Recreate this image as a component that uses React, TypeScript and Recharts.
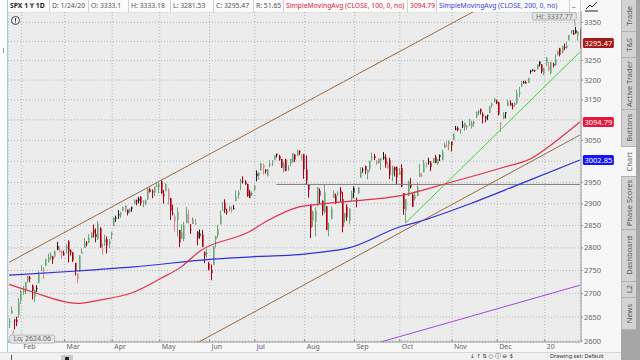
import React from 'react';
import { ComposedChart, Bar, Line, XAxis, YAxis, CartesianGrid, ReferenceLine, ReferenceDot } from 'recharts';

type Ohlc = [number, number, number, number];

// SPX daily bars, open / high / low / close
const jan19: Ohlc[] = [
  [2638.84, 2647.2, 2627.01, 2642.33], [2657.44, 2672.38, 2657.33, 2664.76], [2644.97, 2644.97, 2624.06, 2643.85],
  [2644.89, 2650.93, 2631.05, 2640.0], [2653.62, 2690.44, 2648.34, 2681.05], [2685.49, 2708.95, 2678.65, 2704.1],
];
const feb19: Ohlc[] = [
  [2702.32, 2716.66, 2696.88, 2706.53], [2706.49, 2724.99, 2698.75, 2724.87], [2728.34, 2738.98, 2724.03, 2737.7],
  [2735.05, 2738.08, 2724.15, 2731.61], [2717.53, 2719.32, 2687.26, 2706.05], [2692.36, 2708.07, 2681.83, 2707.88],
  [2712.4, 2718.05, 2703.79, 2709.8], [2722.61, 2748.19, 2722.61, 2744.73], [2750.3, 2761.85, 2748.63, 2753.03],
  [2743.5, 2757.9, 2731.23, 2745.73], [2760.24, 2775.66, 2760.24, 2775.6], [2769.28, 2787.33, 2767.29, 2779.76],
  [2779.05, 2789.88, 2774.06, 2784.7], [2780.67, 2781.57, 2764.55, 2774.88], [2780.67, 2794.2, 2779.11, 2792.67],
  [2804.35, 2813.49, 2794.99, 2796.11], [2792.36, 2803.12, 2789.47, 2793.9], [2787.5, 2795.76, 2775.13, 2792.38],
  [2788.11, 2793.73, 2782.51, 2784.49],
];
const mar19: Ohlc[] = [
  [2798.22, 2808.02, 2787.38, 2803.69], [2814.37, 2816.88, 2767.66, 2792.81], [2794.41, 2796.44, 2782.97, 2789.65],
  [2790.27, 2790.27, 2768.69, 2771.45], [2766.53, 2767.25, 2739.09, 2748.93], [2730.79, 2744.13, 2722.27, 2743.07],
  [2747.61, 2784.0, 2747.61, 2783.3], [2787.34, 2798.32, 2786.73, 2791.52], [2799.78, 2821.24, 2799.78, 2810.92],
  [2810.38, 2815.0, 2803.46, 2808.48], [2810.79, 2830.73, 2810.79, 2822.48], [2822.61, 2835.41, 2821.99, 2832.94],
  [2840.76, 2852.42, 2823.27, 2832.57], [2831.34, 2843.54, 2812.43, 2824.23], [2819.72, 2860.31, 2817.38, 2854.88],
  [2844.52, 2846.16, 2800.47, 2800.71], [2796.01, 2809.79, 2785.02, 2798.36], [2812.66, 2829.87, 2803.99, 2818.46],
  [2819.72, 2825.56, 2787.72, 2805.37], [2809.4, 2819.71, 2798.77, 2815.44], [2828.27, 2836.03, 2819.23, 2834.4],
];
const apr19: Ohlc[] = [
  [2848.63, 2869.4, 2848.63, 2867.19], [2868.24, 2872.9, 2858.75, 2867.24], [2876.09, 2885.25, 2865.17, 2873.4],
  [2873.99, 2881.28, 2867.14, 2879.39], [2884.16, 2893.24, 2882.99, 2892.74], [2888.46, 2895.95, 2880.78, 2895.77],
  [2886.58, 2886.88, 2873.33, 2878.2], [2881.37, 2889.71, 2879.13, 2888.21], [2891.92, 2893.42, 2881.99, 2888.32],
  [2900.86, 2910.54, 2898.37, 2907.41], [2908.32, 2909.6, 2896.48, 2905.58], [2912.26, 2916.06, 2900.71, 2907.06],
  [2916.04, 2918.0, 2895.45, 2900.45], [2904.81, 2908.4, 2891.9, 2905.03], [2898.78, 2909.51, 2896.35, 2907.97],
  [2909.99, 2936.31, 2908.53, 2933.68], [2934.0, 2936.83, 2926.05, 2927.25], [2928.99, 2933.1, 2912.84, 2926.17],
  [2925.81, 2939.88, 2917.56, 2939.88], [2940.58, 2949.52, 2939.35, 2943.03], [2937.14, 2948.22, 2924.11, 2945.83],
];
const may19: Ohlc[] = [
  [2952.33, 2954.13, 2923.36, 2923.73], [2922.16, 2931.68, 2900.5, 2917.52], [2929.21, 2947.85, 2929.21, 2945.64],
  [2908.89, 2937.32, 2898.21, 2932.47], [2913.03, 2913.03, 2862.6, 2884.05], [2879.61, 2897.96, 2873.28, 2879.42],
  [2859.84, 2875.97, 2836.4, 2870.72], [2863.1, 2891.31, 2825.39, 2881.4], [2840.19, 2840.19, 2801.43, 2811.87],
  [2820.12, 2852.54, 2820.12, 2834.41], [2820.38, 2858.68, 2815.08, 2850.96], [2855.8, 2892.15, 2855.8, 2876.32],
  [2858.6, 2885.48, 2854.23, 2859.53], [2841.94, 2853.86, 2831.29, 2840.23], [2854.02, 2868.88, 2854.02, 2864.36],
  [2856.06, 2865.47, 2851.11, 2856.27], [2836.7, 2836.7, 2805.49, 2822.24], [2832.41, 2841.36, 2820.19, 2826.06],
  [2830.03, 2840.51, 2801.58, 2802.39], [2790.25, 2792.03, 2766.06, 2783.02], [2786.94, 2799.0, 2776.74, 2788.86],
  [2766.15, 2768.98, 2750.52, 2752.06],
];
const jun19: Ohlc[] = [
  [2751.53, 2763.07, 2728.81, 2744.45], [2762.64, 2804.49, 2762.64, 2803.27], [2818.09, 2827.28, 2800.92, 2826.15],
  [2828.51, 2852.1, 2822.45, 2843.49], [2852.87, 2884.97, 2852.87, 2873.34], [2885.83, 2904.77, 2885.51, 2886.73],
  [2903.27, 2910.61, 2878.53, 2885.72], [2882.73, 2888.57, 2874.68, 2879.84], [2886.24, 2895.24, 2881.99, 2891.64],
  [2886.82, 2894.45, 2879.62, 2886.98], [2889.75, 2897.27, 2887.3, 2889.67], [2906.71, 2930.79, 2905.44, 2917.75],
  [2920.55, 2931.74, 2911.43, 2926.46], [2949.6, 2958.06, 2931.5, 2954.18], [2952.71, 2964.15, 2946.87, 2950.46],
  [2951.42, 2954.92, 2944.05, 2945.35], [2945.78, 2946.52, 2916.01, 2917.38], [2926.07, 2932.59, 2912.99, 2913.78],
  [2919.66, 2929.3, 2918.57, 2924.92], [2932.94, 2943.98, 2929.05, 2941.76],
];
const jul19: Ohlc[] = [
  [2971.41, 2977.93, 2952.22, 2964.33], [2964.66, 2973.21, 2955.92, 2973.01], [2978.08, 2995.84, 2977.96, 2995.82],
  [2984.25, 2994.03, 2967.97, 2990.41], [2979.77, 2980.76, 2970.09, 2975.95], [2965.52, 2981.9, 2963.44, 2979.63],
  [2989.3, 3002.98, 2984.62, 2993.07], [2999.62, 3002.33, 2988.8, 2999.91], [3003.36, 3013.92, 3001.87, 3013.77],
  [3017.8, 3017.8, 3008.77, 3014.3], [3012.13, 3015.02, 3001.15, 3004.04], [3005.1, 3005.26, 2984.25, 2984.42],
  [2978.87, 2998.28, 2973.09, 2995.11], [3004.26, 3006.02, 2975.86, 2976.61], [2981.93, 2990.71, 2976.65, 2985.03],
  [2994.74, 3005.9, 2988.56, 3005.47], [2998.77, 3019.59, 2996.82, 3019.56], [3016.26, 3016.31, 2997.24, 3003.67],
  [3013.25, 3027.98, 3012.59, 3025.86], [3024.47, 3025.61, 3014.3, 3020.97], [3007.66, 3017.19, 3000.94, 3013.18],
  [3016.22, 3017.4, 2958.08, 2980.38],
];
const aug19: Ohlc[] = [
  [2980.32, 3013.59, 2945.23, 2953.56], [2943.9, 2945.5, 2914.11, 2932.05], [2898.07, 2898.07, 2822.12, 2844.74],
  [2861.18, 2884.4, 2847.42, 2881.77], [2858.65, 2892.17, 2825.71, 2883.98], [2896.21, 2938.72, 2894.47, 2938.09],
  [2930.51, 2935.75, 2900.15, 2918.65], [2907.07, 2907.58, 2873.14, 2882.7], [2880.72, 2943.31, 2877.05, 2926.32],
  [2894.15, 2894.15, 2839.64, 2840.6], [2846.2, 2856.67, 2825.51, 2847.6], [2864.74, 2893.63, 2864.74, 2888.68],
  [2913.48, 2931.0, 2913.48, 2923.65], [2919.01, 2923.63, 2899.6, 2900.51], [2922.04, 2928.73, 2917.91, 2924.43],
  [2930.94, 2939.08, 2904.51, 2922.95], [2911.07, 2927.01, 2834.97, 2847.11], [2866.7, 2879.27, 2856.0, 2878.38],
  [2893.14, 2898.79, 2860.59, 2869.16], [2861.28, 2890.03, 2853.05, 2887.94], [2910.37, 2930.5, 2905.67, 2924.58],
  [2937.09, 2940.43, 2913.32, 2926.46],
];
const sep19: Ohlc[] = [
  [2909.01, 2914.39, 2891.85, 2906.27], [2924.67, 2938.84, 2921.86, 2937.78], [2960.6, 2985.86, 2960.6, 2976.0],
  [2980.33, 2985.03, 2972.51, 2978.71], [2988.43, 2989.43, 2969.39, 2978.43], [2971.01, 2979.39, 2957.01, 2979.39],
  [2981.41, 3000.93, 2975.31, 3000.93], [3009.08, 3020.74, 3000.92, 3009.57], [3012.21, 3017.33, 3002.9, 3007.39],
  [2996.41, 3002.19, 2990.67, 2997.96], [2995.67, 3006.21, 2993.73, 3005.7], [3001.5, 3007.83, 2978.57, 3006.73],
  [3010.36, 3021.99, 3003.16, 3006.79], [3008.42, 3016.37, 2984.68, 2992.07], [2983.5, 2999.15, 2982.23, 2991.78],
  [3002.43, 3007.98, 2957.73, 2966.6], [2968.35, 2989.82, 2952.86, 2984.87], [2985.73, 2987.28, 2963.71, 2977.62],
  [2985.47, 2987.31, 2945.53, 2961.79], [2967.07, 2983.85, 2967.07, 2976.74],
];
const oct19: Ohlc[] = [
  [2983.69, 2992.53, 2938.7, 2940.25], [2924.78, 2924.78, 2874.93, 2887.61], [2885.38, 2911.13, 2855.94, 2910.63],
  [2918.56, 2953.74, 2918.56, 2952.01], [2944.23, 2959.75, 2935.68, 2938.79], [2920.4, 2925.47, 2892.66, 2893.06],
  [2911.1, 2929.32, 2907.41, 2919.4], [2918.55, 2948.46, 2917.12, 2938.13], [2963.07, 2993.28, 2963.07, 2970.27],
  [2965.81, 2972.84, 2962.94, 2966.15], [2973.61, 3003.28, 2973.61, 2995.68], [2989.68, 2997.54, 2985.2, 2989.69],
  [3000.77, 3008.29, 2991.79, 2997.95], [2996.84, 3000.0, 2976.31, 2986.2], [2996.48, 3007.33, 2995.35, 3006.72],
  [3010.73, 3014.57, 2995.04, 2995.99], [2994.01, 3004.78, 2991.21, 3004.52], [3014.78, 3016.07, 3000.42, 3010.29],
  [3003.32, 3027.39, 3001.94, 3022.55], [3032.12, 3044.08, 3032.12, 3039.42], [3035.39, 3047.87, 3034.81, 3036.89],
  [3039.74, 3050.1, 3025.96, 3046.77], [3046.9, 3046.9, 3023.19, 3037.56],
];
const nov19: Ohlc[] = [
  [3050.72, 3066.95, 3050.72, 3066.91], [3078.96, 3085.2, 3074.87, 3078.27], [3080.8, 3083.95, 3072.15, 3074.62],
  [3075.1, 3078.34, 3065.89, 3076.78], [3087.02, 3097.77, 3080.23, 3085.18], [3081.25, 3093.09, 3073.58, 3093.08],
  [3080.33, 3088.33, 3075.82, 3087.01], [3089.28, 3102.61, 3084.73, 3091.84], [3084.18, 3098.06, 3078.8, 3094.04],
  [3090.75, 3098.2, 3083.26, 3096.63], [3107.92, 3120.46, 3104.6, 3120.46], [3117.91, 3124.17, 3112.06, 3122.03],
  [3127.45, 3127.64, 3113.47, 3120.18], [3114.66, 3118.97, 3091.41, 3108.46], [3108.49, 3110.11, 3094.55, 3103.54],
  [3111.41, 3112.87, 3099.26, 3110.29], [3117.44, 3133.83, 3117.44, 3133.64], [3134.85, 3142.69, 3131.0, 3140.52],
  [3145.49, 3154.26, 3143.41, 3153.63], [3147.18, 3150.3, 3139.34, 3140.98],
];
const dec19: Ohlc[] = [
  [3143.85, 3144.31, 3110.78, 3113.87], [3087.41, 3094.97, 3070.33, 3093.2], [3103.5, 3119.38, 3102.53, 3112.76],
  [3119.21, 3119.45, 3103.76, 3117.43], [3134.62, 3150.6, 3134.62, 3145.91], [3141.86, 3148.87, 3135.46, 3135.96],
  [3135.36, 3142.12, 3126.09, 3132.52], [3135.75, 3143.98, 3133.21, 3141.63], [3141.23, 3176.28, 3138.47, 3168.57],
  [3166.65, 3182.68, 3156.51, 3168.8], [3183.63, 3197.71, 3183.63, 3191.45], [3195.4, 3198.22, 3191.03, 3192.52],
  [3195.21, 3198.48, 3191.14, 3191.14], [3192.32, 3205.48, 3192.32, 3205.37], [3223.33, 3225.65, 3216.03, 3221.22],
  [3226.05, 3227.78, 3222.3, 3224.01], [3225.45, 3226.43, 3220.51, 3223.38], [3227.2, 3240.08, 3227.2, 3239.91],
  [3247.23, 3247.93, 3234.37, 3240.02], [3240.09, 3240.92, 3216.57, 3221.29], [3215.18, 3231.72, 3212.03, 3230.78],
];
const jan20: Ohlc[] = [
  [3244.67, 3258.14, 3235.53, 3257.85], [3226.36, 3246.15, 3222.34, 3234.85], [3217.55, 3246.84, 3214.64, 3246.28],
  [3241.86, 3244.91, 3232.43, 3237.18], [3238.59, 3267.07, 3236.67, 3253.05], [3266.03, 3275.58, 3263.67, 3274.7],
  [3281.81, 3282.99, 3260.86, 3265.35], [3271.13, 3288.13, 3268.43, 3288.13], [3285.35, 3294.25, 3277.19, 3283.15],
  [3282.27, 3298.66, 3280.69, 3289.29], [3302.97, 3317.11, 3302.82, 3316.81], [3323.66, 3329.88, 3318.86, 3329.62],
  [3321.03, 3329.79, 3316.61, 3320.79], [3330.02, 3337.77, 3320.04, 3321.75], [3315.77, 3326.88, 3301.87, 3325.54],
  [3333.1, 3333.18, 3281.53, 3295.47],
];
const closeBeforeStart = 2638.7;

// month labels and the bar index where each month starts
const monthLabels = ['Feb', 'Mar', 'Apr', 'May', 'Jun', 'Jul', 'Aug', 'Sep', 'Oct', 'Nov', 'Dec', '20'];
const monthStarts = [6, 25, 46, 67, 89, 109, 131, 153, 173, 196, 216, 237];
const priceTicks = [2600, 2650, 2700, 2750, 2800, 2850, 2900, 2950, 3000, 3050, 3100, 3150, 3200, 3250, 3300, 3350];

// moving averages: [bar index, value]
const sma100Points = [
  [0, 2720], [10, 2704], [30, 2679], [40, 2686], [55, 2703], [67, 2733], [76, 2758], [84, 2792], [106, 2836],
  [114, 2861], [128, 2893], [137, 2899], [151, 2906], [173, 2919], [195, 2950], [218, 2985], [230, 3005],
  [240, 3042], [252, 3094.79],
];
const sma200Points = [
  [0, 2740], [30, 2749], [55, 2758], [90, 2775], [110, 2781], [128, 2785], [137, 2790], [150, 2800],
  [173, 2848], [181, 2859], [203, 2899], [226, 2947], [252, 3002.85],
];

// drawn trend lines: [[index, price], [index, price]]
const upperChannel = [[0, 2768], [252, 3537]];
const lowerChannel = [[83, 2596], [252, 3063]];
const greenTrend = [[175, 2855.94], [252, 3272]];
const purpleTrend = [[164, 2598], [252, 2718]];
const grayLevel = [[118, 2945], [252, 2945]];

const lastIndex = 252;
const lastClose = 3295.47;
const sma100Last = 3094.79;
const sma200Last = 3002.85;
const hiIndex = 250;
const hiValue = 3337.77;
const loIndex = 2;
const loValue = 2624.06;

const candles = [jan19, feb19, mar19, apr19, may19, jun19, jul19, aug19, sep19, oct19, nov19, dec19, jan20].flat();
const sma100Map = new Map(sma100Points.map(([i, v]) => [i, v]));
const sma200Map = new Map(sma200Points.map(([i, v]) => [i, v]));

const data = candles.map(([o, h, l, c], i) => ({
  i,
  o,
  h,
  l,
  c,
  prev: i > 0 ? candles[i - 1][3] : closeBeforeStart,
  range: [l, h],
  sma100: sma100Map.get(i) ?? null,
  sma200: sma200Map.get(i) ?? null,
}));

const seg = (p: number[][]) => p.map(([x, y]) => ({ x, y }));

const Candle = (props: any) => {
  const { x, y, width, height, payload } = props;
  if (!payload || height == null) return null;
  const { o, h, l, c, prev } = payload;
  const span = Math.log(h) - Math.log(l) || 1;
  const py = (v: number) => y + (height * (Math.log(h) - Math.log(v))) / span;
  const up = c >= prev;
  const hollow = c >= o;
  const color = up ? (hollow ? '#6aa67a' : '#1b1b1b') : hollow ? '#d48a8f' : '#a8000f';
  const px = Math.round(x + width / 2);
  const top = py(Math.max(o, c));
  const bot = py(Math.min(o, c));
  return (
    <g>
      <line x1={px + 0.5} x2={px + 0.5} y1={y} y2={y + height} stroke={color} strokeWidth={1} />
      <rect x={px} y={top} width={1.6} height={Math.max(1, bot - top)} fill={color} />
    </g>
  );
};

const MonthTick = (props: any) => {
  const { x, y, payload } = props;
  const k = monthStarts.indexOf(payload.value + 0.5);
  const label = monthLabels[k] ?? '';
  return (
    <g>
      <line x1={x} x2={x} y1={y - 3} y2={y} stroke="#888" strokeWidth={0.8} />
      <text x={x + 2} y={y + 7.3} fontSize={7} fill={label === 'Jul' ? '#6b3f9c' : '#666'} textAnchor="start">
        {label}
      </text>
    </g>
  );
};

const boxedTicks = [3300, 3100, 3000];
const PriceTick = (props: any) => {
  const { x, y, payload } = props;
  if (boxedTicks.includes(payload.value)) return <g />;
  return (
    <g>
      <line x1={x} x2={x + 2} y1={y} y2={y} stroke="#888" strokeWidth={0.8} />
      <text x={x + 3} y={y + 2.6} fontSize={7.5} fill="#666" textAnchor="start">
        {payload.value}
      </text>
    </g>
  );
};

const priceBox = (fill: string, text: string) => (p: any) => (
  <g>
    <rect x={p.cx + 3} y={p.cy - 5} width={31} height={10} rx={1.5} fill={fill} />
    <text x={p.cx + 18.5} y={p.cy + 2.6} fontSize={7.5} fill="#fff" textAnchor="middle">
      {text}
    </text>
  </g>
);

const HiBox = (p: any) => (
  <g>
    <line x1={p.cx} y1={p.cy - 1} x2={p.cx - 1} y2={p.cy - 7.5} stroke="#888" strokeWidth={0.8} />
    <rect x={p.cx - 43} y={p.cy - 14.5} width={44} height={7.5} rx={1.5} fill="#e4e4e4" stroke="#a5a5a5" strokeWidth={0.7} />
    <text x={p.cx - 21} y={p.cy - 8.4} fontSize={7} fill="#666" textAnchor="middle">
      Hi: {hiValue}
    </text>
  </g>
);

const LoBox = (p: any) => (
  <g>
    <line x1={p.cx} y1={p.cy + 1} x2={p.cx - 1} y2={p.cy + 6} stroke="#888" strokeWidth={0.8} />
    <rect x={p.cx - 4} y={p.cy + 5.7} width={45} height={8} rx={1.5} fill="#e4e4e4" stroke="#a5a5a5" strokeWidth={0.7} />
    <text x={p.cx + 18.5} y={p.cy + 12} fontSize={7} fill="#666" textAnchor="middle">
      Lo: {loValue}
    </text>
  </g>
);

const headerCells = [
  { text: 'SPX 1 Y 1D', left: 8, width: 42, color: '#222', bold: true },
  { text: 'D: 1/24/20', left: 50, width: 39, color: '#555' },
  { text: 'O: 3333.1', left: 89, width: 40, color: '#555' },
  { text: 'H: 3333.18', left: 129, width: 42, color: '#555' },
  { text: 'L: 3281.53', left: 171, width: 43, color: '#555' },
  { text: 'C: 3295.47', left: 214, width: 40, color: '#555' },
  { text: 'R: 51.65', left: 254, width: 30, color: '#555' },
  { text: 'SimpleMovingAvg (CLOSE, 100, 0, no)', left: 284, width: 124, color: '#d8203f' },
  { text: '3094.79', left: 408, width: 29, color: '#d8203f' },
  { text: 'SimpleMovingAvg (CLOSE, 200, 0, no)', left: 437, width: 133, color: '#3b3bd6' },
  { text: '..', left: 570, width: 11, color: '#333' },
];

const tabs = [
  { label: 'Trade', top: 0, bottom: 32 },
  { label: 'T&S', top: 32, bottom: 58 },
  { label: 'Active Trader', top: 58, bottom: 110 },
  { label: 'Buttons', top: 110, bottom: 147 },
  { label: 'Chart', top: 147, bottom: 177, active: true },
  { label: 'Phase Scores', top: 177, bottom: 230 },
  { label: 'Dashboard', top: 230, bottom: 282 },
  { label: 'L2', top: 282, bottom: 298 },
  { label: 'News', top: 298, bottom: 330 },
];

const abs = (s: React.CSSProperties): React.CSSProperties => ({ position: 'absolute', boxSizing: 'border-box', ...s });

export default function App() {
  return (
    <div
      style={abs({
        left: 0,
        top: 0,
        width: 640,
        height: 360,
        background: '#f7f7f7',
        overflow: 'hidden',
        fontFamily: "'Noto Sans', 'DejaVu Sans', sans-serif",
      })}
    >
      <div style={abs({ left: 0, top: 0, width: 8, height: 352, background: '#fcfdfe', borderRight: '1px solid #a7c8de' })} />
      <div style={abs({ left: 3, top: 48, width: 1, height: 5, background: '#999' })} />

      <div style={abs({ left: 0, top: 0 })}>
        <ComposedChart width={620} height={360} data={data} margin={{ top: 12, right: 7, bottom: 8, left: 8 }}>
          <CartesianGrid fill="#ececec" stroke="#a9a9a9" strokeDasharray="1 2" strokeWidth={0.8} />
          <XAxis
            type="number"
            dataKey="i"
            domain={[-0.5, lastIndex + 0.5]}
            ticks={monthStarts.map((m) => m - 0.5)}
            interval={0}
            allowDataOverflow
            height={10}
            tickSize={0}
            tickMargin={0}
            tickLine={false}
            axisLine={{ stroke: '#9a9a9a' }}
            tick={(p: any) => <MonthTick {...p} />}
          />
          <YAxis
            orientation="right"
            scale="log"
            domain={[2598, 3378]}
            ticks={priceTicks}
            interval={0}
            allowDataOverflow
            width={32}
            tickSize={0}
            tickMargin={0}
            tickLine={false}
            axisLine={{ stroke: '#9a9a9a' }}
            tick={(p: any) => <PriceTick {...p} />}
          />
          <ReferenceLine segment={seg(grayLevel)} stroke="#7a7a7a" strokeWidth={1} ifOverflow="hidden" />
          <ReferenceLine segment={seg(upperChannel)} stroke="#9b6a3e" strokeWidth={1} ifOverflow="hidden" />
          <ReferenceLine segment={seg(lowerChannel)} stroke="#9b6a3e" strokeWidth={1} ifOverflow="hidden" />
          <ReferenceLine segment={seg(purpleTrend)} stroke="#a645e6" strokeWidth={1} ifOverflow="hidden" />
          <ReferenceLine segment={seg(greenTrend)} stroke="#3fd23f" strokeWidth={1} ifOverflow="hidden" />
          <Line
            dataKey="sma200"
            stroke="#2f2fe0"
            strokeWidth={1.2}
            dot={false}
            connectNulls
            type="monotone"
            isAnimationActive={false}
          />
          <Line
            dataKey="sma100"
            stroke="#e2314f"
            strokeWidth={1.2}
            dot={false}
            connectNulls
            type="monotone"
            isAnimationActive={false}
          />
          <Bar dataKey="range" barSize={2} shape={(p: any) => <Candle {...p} />} isAnimationActive={false} />
          <ReferenceDot x={hiIndex} y={hiValue} r={0} shape={(p: any) => <HiBox {...p} />} />
          <ReferenceDot x={loIndex} y={loValue} r={0} shape={(p: any) => <LoBox {...p} />} />
          <ReferenceDot x={lastIndex} y={lastClose} r={0} shape={priceBox('#a81a1a', String(lastClose))} />
          <ReferenceDot x={lastIndex} y={sma100Last} r={0} shape={priceBox('#e5163e', String(sma100Last))} />
          <ReferenceDot x={lastIndex} y={sma200Last} r={0} shape={priceBox('#1414f5', String(sma200Last))} />
        </ComposedChart>
      </div>

      {/* alert marker */}
      <svg style={abs({ left: 10, top: 15 })} width={12} height={12}>
        <circle cx={5.5} cy={5.5} r={4} fill="#f4f4f4" stroke="#333" strokeWidth={0.9} />
        <line x1={5.5} x2={5.5} y1={3} y2={6.5} stroke="#333" strokeWidth={1} />
        <line x1={5.5} x2={5.5} y1={7.3} y2={8.3} stroke="#333" strokeWidth={1} />
      </svg>

      {/* header row */}
      <div style={abs({ left: 8, top: 0, width: 574, height: 12, background: '#fafafa', borderBottom: '1px solid #cfcfcf' })} />
      {headerCells.map((c) => (
        <div
          key={c.text + c.left}
          style={abs({
            left: c.left,
            top: 0,
            width: c.width,
            height: 12,
            borderRight: '1px solid #d2d2d2',
            background: '#fbfbfb',
            color: c.color,
            fontSize: 6.8,
            fontWeight: c.bold ? 700 : 400,
            lineHeight: '12px',
            whiteSpace: 'nowrap',
            overflow: 'hidden',
            paddingLeft: 2,
          })}
        >
          {c.text}
        </div>
      ))}
      <svg style={abs({ left: 585, top: 1 })} width={14} height={11}>
        <line x1={1} y1={8} x2={5} y2={4} stroke="#222" strokeWidth={1} />
        <line x1={5} y1={4} x2={7} y2={6} stroke="#222" strokeWidth={1} />
        <line x1={7} y1={6} x2={12} y2={1} stroke="#222" strokeWidth={1} />
        <line x1={0} y1={10} x2={13} y2={10} stroke="#222" strokeWidth={1} />
      </svg>

      {/* right tab strip */}
      <div style={abs({ left: 621, top: 0, width: 19, height: 360, background: '#a6a6a6' })} />
      {tabs.map((t) => (
        <div
          key={t.label}
          style={abs({
            left: 621,
            top: t.top,
            width: 15,
            height: t.bottom - t.top,
            background: t.active ? '#f7f7f7' : '#d3d3d3',
            borderBottom: '1px solid #b3b3b3',
            borderLeft: t.active ? 'none' : '1px solid #b8b8b8',
            display: 'flex',
            alignItems: 'center',
            justifyContent: 'center',
          })}
        >
          <span
            style={{
              writingMode: 'vertical-rl',
              transform: 'rotate(180deg)',
              fontSize: 7.5,
              color: '#555',
              whiteSpace: 'nowrap',
              lineHeight: '10px',
            }}
          >
            {t.label}
          </span>
        </div>
      ))}

      {/* bottom toolbar */}
      <div style={abs({ left: 0, top: 352, width: 621, height: 8, background: '#f1f1f1', borderTop: '1px solid #d6d6d6' })} />
      <div style={abs({ left: 11, top: 355, width: 1, height: 5, background: '#555' })} />
      <div style={abs({ left: 61, top: 355, width: 12, height: 5, background: '#c9c9c9' })} />
      <div style={abs({ left: 65, top: 357, width: 4, height: 3, background: '#222' })} />
      <div style={abs({ left: 470, top: 352, height: 8, fontSize: 5.6, lineHeight: '8px', color: '#333', whiteSpace: 'nowrap' })}>
        ↓ ↑ ⇅ ○ ⓘ ⊖ &nbsp;$
      </div>
      <div style={abs({ left: 550, top: 352, height: 8, fontSize: 5.6, lineHeight: '8px', color: '#333', whiteSpace: 'nowrap' })}>
        Drawing set: Default
      </div>
    </div>
  );
}
